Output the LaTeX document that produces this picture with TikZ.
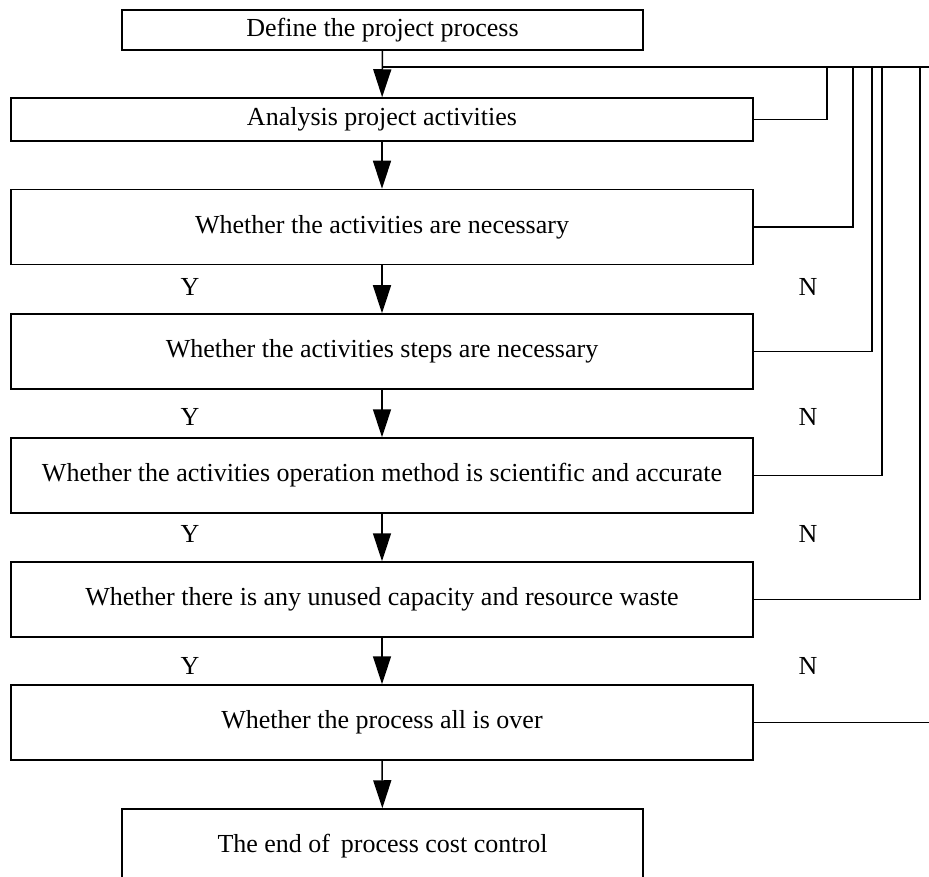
\documentclass[tikz,border=0pt]{standalone}
\usepackage{fontspec}
\setmainfont{Liberation Serif}
\usetikzlibrary{positioning, arrows.meta}

\begin{document}
\begin{tikzpicture}[
    x=1pt, y=-1pt,
    >=Stealth,
    box/.style={rectangle, draw, line width=1.5pt, inner sep=0pt,
                minimum width=742pt, minimum height=75pt,
                align=center, font=\fontsize{26}{30}\selectfont},
    head/.style={box, minimum width=521pt, minimum height=40pt},
    thin/.style={box, minimum height=43pt},
    tag/.style={font=\fontsize{26}{30}\selectfont, inner sep=0pt},
    arrow/.style={-{Triangle[length=28pt, width=18pt]}, line width=1.5pt},
    backline/.style={line width=1.5pt}
]
  \clip (0,0) rectangle (929,877);

  \node[head] (define) at (382.5, 30) {Define the project process};

  % Main chain
  \node[thin] (analysis) at (382, 119.5) {Analysis project activities};
  \node[box] (needact) at (382, 227) {Whether the activities are necessary};
  \node[box] (needstep) at (382, 351.5) {Whether the activities steps are necessary};
  \node[box] (method) at (382, 475.5) {Whether the activities operation method is scientific and accurate};
  \node[box] (waste) at (382, 599.5) {Whether there is any unused capacity and resource waste};
  \node[box] (over) at (382, 722.5) {Whether the process all is over};
  \node[head, minimum height=75pt] (finish) at (382.5, 846.5) {The end of\, process cost control};

  % Points on the return line
  \coordinate (join) at (382, 67);
  \coordinate (rend) at (940, 67);
  \coordinate (r1) at (827, 67);
  \coordinate (r2) at (853, 67);
  \coordinate (r3) at (872, 67);
  \coordinate (r4) at (882, 67);
  \coordinate (r5) at (920, 67);
  \coordinate (r6) at (940, 67);

  % Edges down the chain
  \draw[arrow] (define) -- (analysis);
  \draw[arrow] (analysis) -- (needact);
  \draw[arrow] (needact) -- (needstep);
  \draw[arrow] (needstep) -- (method);
  \draw[arrow] (method) -- (waste);
  \draw[arrow] (waste) -- (over);
  \draw[arrow] (over) -- (finish);

  % Return lines
  \draw[backline] (join) -- (rend);
  \draw[backline] (analysis.east) -| (r1);
  \draw[backline] (needact.east) -| (r2);
  \draw[backline] (needstep.east) -| (r3);
  \draw[backline] (method.east) -| (r4);
  \draw[backline] (waste.east) -| (r5);
  \draw[backline] (over.east) -| (r6);

  % Y and N labels
  \foreach \yy [count=\i] in {287, 417, 534, 666} {
    \node[tag] (yes\i) at (190, \yy) {Y};
    \node[tag] (no\i) at (808, \yy) {N};
  }
\end{tikzpicture}
\end{document}
